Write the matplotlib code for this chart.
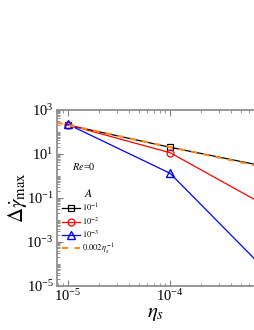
import numpy as np
import matplotlib
matplotlib.use("Agg")
import matplotlib.pyplot as plt
from matplotlib.ticker import LogLocator, FixedLocator, NullFormatter

plt.rcParams['font.family'] = ['Liberation Serif', 'DejaVu Serif']
plt.rcParams['mathtext.fontset'] = 'stix'

# data
eta_s = [1e-5, 1e-4, 1e-3]
gamma_A1 = [200, 19.6, 2.3]      # A = 1e-1
gamma_A2 = [205, 11.1, 0.03]     # A = 1e-2
gamma_A3 = [215, 1.29, 2.6e-5]   # A = 1e-3
fit_eta = np.array([7.7e-6, 1e-3])
fit_coef = 0.002

labels = [r'$10^{-1}$', r'$10^{-2}$', r'$10^{-3}$', r'$0.002\,\eta_s^{-1}$']
y_ticks = [1e-5, 1e-3, 1e-1, 1e1, 1e3]
x_ticks = [1e-5, 1e-4]

fig = plt.figure(figsize=(2.55, 3.3), dpi=100)
ax = fig.add_axes([0.2216, 0.134, 0.7784, 0.5336])

ax.plot(eta_s, gamma_A1, color='black', lw=0.9, marker='s', ms=5,
        mfc='none', mew=0.9, label=labels[0], zorder=3)
ax.plot(eta_s, gamma_A2, color='red', lw=0.9, marker='o', ms=5,
        mfc='none', mew=0.9, label=labels[1], zorder=3)
ax.plot(eta_s, gamma_A3, color='blue', lw=0.9, marker='^', ms=6,
        mfc='none', mew=1.0, label=labels[2], zorder=3)
ax.plot(fit_eta, fit_coef / fit_eta, color='#ff8c1a', lw=1.5, ls=(0, (3, 3)),
        label=labels[3], zorder=4)

ax.set_xscale('log')
ax.set_yscale('log')
ax.set_xlim(7.7e-6, 6.8e-4)
ax.set_ylim(1e-5, 1e3)

ax.xaxis.set_major_locator(FixedLocator(x_ticks))
ax.xaxis.set_minor_locator(LogLocator(base=10, subs=np.arange(2, 10), numticks=20))
ax.yaxis.set_major_locator(FixedLocator(y_ticks))
ax.yaxis.set_minor_locator(LogLocator(base=10, subs=np.arange(1, 10), numticks=20))
ax.yaxis.set_minor_formatter(NullFormatter())
ax.xaxis.set_minor_formatter(NullFormatter())

ax.tick_params(which='both', direction='in', top=True, right=False,
               color='#808080', labelsize=10.5, pad=2)
ax.tick_params(which='major', length=4, width=0.8)
ax.tick_params(which='minor', length=2, width=0.6)
for side in ['left', 'bottom', 'top']:
    ax.spines[side].set_color('#909090')
    ax.spines[side].set_linewidth(1.3)
ax.spines['right'].set_visible(False)

ax.set_xlabel(r'$\eta_s$', fontsize=15, labelpad=0)
ax.set_ylabel(r'$\Delta\dot{\gamma}_{\rm max}$', fontsize=15, labelpad=-2)

ax.text(0.08, 0.66, r'$Re$=0', transform=ax.transAxes, fontsize=7.5)

leg = ax.legend(loc='upper left', bbox_to_anchor=(0.0, 0.585), frameon=False,
                fontsize=6, title=r'$A$', title_fontsize=8.5,
                handlelength=2.2, handletextpad=0.3, labelspacing=0.2,
                borderaxespad=0.2)

fig.savefig('out.png', dpi=100)
